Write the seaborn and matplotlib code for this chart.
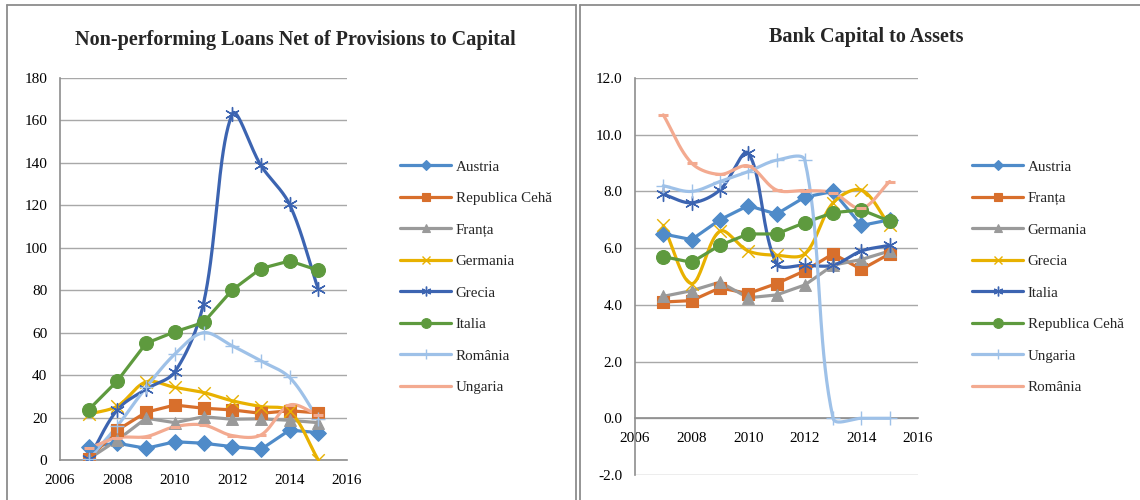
import numpy as np
import matplotlib
matplotlib.use("Agg")
import matplotlib.pyplot as plt
from matplotlib.lines import Line2D
import seaborn as sns

sns.set_style("white")
plt.rcParams["font.family"] = ["Liberation Serif", "DejaVu Serif"]

years = [2007, 2008, 2009, 2010, 2011, 2012, 2013, 2014, 2015]

# Non-performing loans net of provisions to capital (%)
npl_names = ["Austria", "Republica Cehă", "Franța", "Germania", "Grecia",
             "Italia", "România", "Ungaria"]
npl_austria = [6.3, 7.9, 5.5, 8.6, 7.9, 6.3, 5.0, 14.1, 12.9]
npl_cehia = [0.5, 14.1, 22.5, 25.9, 24.4, 23.6, 22.0, 23.2, 22.2]
npl_franta = [0.5, 9.4, 19.7, 17.6, 20.4, 19.2, 19.4, 18.7, 17.6]
npl_germania = [21.6, 25.4, 36.8, 34.2, 31.8, 27.9, 25.2, 23.0, 0.0]
npl_grecia = [0.5, 23.7, 33.4, 41.5, 73.7, 163.0, 138.8, 120.4, 80.4]
npl_italia = [23.7, 37.3, 55.0, 60.4, 64.8, 80.1, 90.2, 93.8, 89.4]
npl_romania = [0.5, 16.1, 34.2, 49.9, 60.0, 53.8, 46.7, 38.9, 19.3]
npl_ungaria = [5.5, 10.5, 11.0, 15.7, 16.5, 11.5, 11.8, 25.9, 21.2]
npl_values = [npl_austria, npl_cehia, npl_franta, npl_germania, npl_grecia,
              npl_italia, npl_romania, npl_ungaria]

# Bank capital to assets (%)
cap_names = ["Austria", "Franța", "Germania", "Grecia", "Italia",
             "Republica Cehă", "Ungaria", "România"]
cap_austria = [6.5, 6.3, 7.0, 7.5, 7.2, 7.8, 8.0, 6.8, 7.0]
cap_franta = [4.1, 4.15, 4.6, 4.4, 4.75, 5.2, 5.8, 5.25, 5.8]
cap_germania = [4.3, 4.5, 4.8, 4.25, 4.35, 4.7, 5.4, 5.6, 5.9]
cap_grecia = [6.8, 4.75, 6.6, 5.9, 5.75, 5.8, 7.6, 8.05, 6.8]
cap_italia = [7.9, 7.6, 8.05, 9.35, 5.45, 5.4, 5.4, 5.9, 6.1]
cap_cehia = [5.7, 5.5, 6.1, 6.5, 6.5, 6.9, 7.25, 7.35, 6.95]
cap_ungaria = [8.2, 8.0, 8.35, 8.7, 9.1, 9.1, 0.0, 0.0, 0.0]
cap_romania = [10.7, 9.0, 8.6, 8.9, 8.05, 8.03, 7.95, 7.4, 8.35]
cap_values = [cap_austria, cap_franta, cap_germania, cap_grecia, cap_italia,
              cap_cehia, cap_ungaria, cap_romania]

colors = ["#4F8BC9", "#D86F2C", "#9A9A9A", "#E8B100", "#3C64B1",
          "#5E9A3E", "#9EC1E8", "#F3AA90"]
asterisk = (6, 2, 0)
markers = ["D", "s", "^", "x", asterisk, "o", "+", "_"]
msizes = [8, 8, 8.5, 9, 10, 10, 10, 7]
smoothed = [False, False, False, True, True, False, True, True]

W, H = 1140, 500
fig = plt.figure(figsize=(W / 100, H / 100), dpi=100)


def px_box(x0, x1, ytop, ybot):
    return [x0 / W, 1 - ybot / H, (x1 - x0) / W, (ybot - ytop) / H]


def bezier_smooth(xs, ys, sx, sy, n=40):
    """Piecewise cubic Bezier through the points, tangents weighted by chord length."""
    P = np.column_stack([np.asarray(xs, float) * sx, np.asarray(ys, float) * sy])
    out = [P[0]]
    m = len(P)
    for i in range(m - 1):
        p0 = P[i - 1] if i > 0 else P[i]
        p1, p2 = P[i], P[i + 1]
        p3 = P[i + 2] if i + 2 < m else P[i + 1]
        d01 = np.linalg.norm(p1 - p0)
        d12 = np.linalg.norm(p2 - p1)
        d23 = np.linalg.norm(p3 - p2)
        w1 = d12 / (d01 + d12) if d01 + d12 > 0 else 0
        w2 = d12 / (d12 + d23) if d12 + d23 > 0 else 0
        c1 = p1 + (p2 - p0) * w1 / 3
        c2 = p2 - (p3 - p1) * w2 / 3
        t = np.linspace(0, 1, n)[1:, None]
        seg = ((1 - t) ** 3) * p1 + 3 * ((1 - t) ** 2) * t * c1 \
            + 3 * (1 - t) * t ** 2 * c2 + t ** 3 * p2
        out.extend(seg)
    out = np.array(out)
    return out[:, 0] / sx, out[:, 1] / sy


def draw_panel(ax, names, values, ylim, yticks, yfmt, title, title_xy,
               legend_xy, xaxis_at_zero, xpad):
    ax.set_xlim(2006, 2016)
    ax.set_ylim(*ylim)
    bbox = ax.get_position()
    sx = bbox.width * W / 10.0
    sy = bbox.height * H / (ylim[1] - ylim[0])
    handles = []
    for k, (name, vals) in enumerate(zip(names, values)):
        c = colors[k]
        if smoothed[k]:
            cx, cy = bezier_smooth(years, vals, sx, sy)
        else:
            cx, cy = np.array(years, float), np.array(vals, float)
        sns.lineplot(x=cx, y=cy, ax=ax, color=c, linewidth=2.3, sort=False,
                     estimator=None, legend=False, zorder=3 + k * 0.1)
        mk = markers[k]
        filled = mk in ("D", "s", "^", "o")
        ms = msizes[k]
        if filled:
            sns.scatterplot(x=years, y=vals, ax=ax, marker=mk, s=ms ** 2,
                            color=c, edgecolor=c, linewidth=0.8, legend=False,
                            zorder=4 + k * 0.1)
        else:
            sns.scatterplot(x=years, y=vals, ax=ax, marker=mk, s=ms ** 2,
                            color=c, linewidth=1.0 if mk != "_" else 2.2,
                            legend=False, zorder=4 + k * 0.1)
        handles.append(Line2D([], [], color=c, linewidth=2.3, marker=mk,
                              markersize=ms * 0.7, markerfacecolor=c,
                              markeredgecolor=c,
                              markeredgewidth=0.8 if filled else 1.0))
    ax.set_yticks(yticks)
    ax.set_yticklabels([yfmt.format(v) for v in yticks])
    ax.set_xticks(range(2006, 2017, 2))
    ax.grid(axis="y", color="#A8A8A8", linewidth=1.0)
    ax.grid(axis="x", visible=False)
    for s in ("top", "right"):
        ax.spines[s].set_visible(False)
    ax.spines["left"].set_color("#8E8E8E")
    ax.spines["left"].set_linewidth(1.2)
    ax.spines["bottom"].set_color("#8E8E8E")
    ax.spines["bottom"].set_linewidth(1.2)
    if xaxis_at_zero:
        ax.spines["bottom"].set_position(("data", 0))
    ax.tick_params(axis="both", length=0, labelsize=11, colors="black")
    ax.tick_params(axis="y", pad=9)
    ax.tick_params(axis="x", pad=xpad)
    ax.set_xlabel("")
    ax.set_ylabel("")
    ax.set_facecolor("none")
    fig.text(title_xy[0] / W, 1 - title_xy[1] / H, title, ha="center",
             va="center", fontsize=14.5, fontweight="bold")
    fig.legend(handles=handles, labels=names, loc="upper left",
               bbox_to_anchor=(legend_xy[0] / W, 1 - legend_xy[1] / H),
               frameon=False, fontsize=10.8, handlelength=3.4,
               handletextpad=0.3, labelspacing=1.2, borderpad=0,
               borderaxespad=0)


ax1 = fig.add_axes(px_box(60, 347, 78, 460))
draw_panel(ax1, npl_names, npl_values, (0, 180), list(range(0, 181, 20)),
           "{:.0f}", "Non-performing Loans Net of Provisions to Capital",
           (295, 40), (400, 160), False, 10)

ax2 = fig.add_axes(px_box(635, 918, 78, 475))
draw_panel(ax2, cap_names, cap_values, (-2, 12), [-2, 0, 2, 4, 6, 8, 10, 12],
           "{:.1f}", "Bank Capital to Assets", (866, 37), (972, 160), True, 10)

# Panel frames
frame = "#8C8C8C"
for xs, ys in [([7, 7], [500, 5]), ([7, 576], [5, 5]), ([576, 576], [5, 500]),
               ([580, 580], [500, 5]), ([580, 1140], [5, 5])]:
    fig.add_artist(Line2D([x / W for x in xs], [1 - y / H for y in ys],
                          color=frame, linewidth=1.3))

fig.savefig("out.png", dpi=100)
